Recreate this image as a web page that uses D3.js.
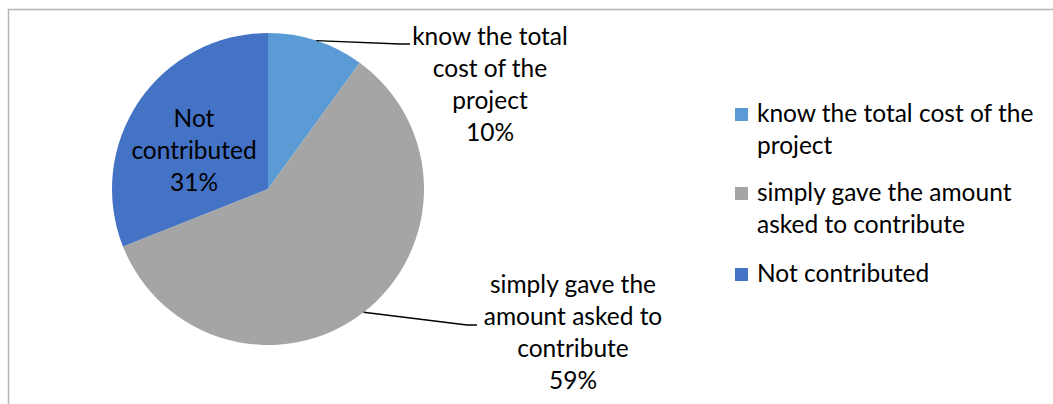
<!DOCTYPE html>
<html>
<head>
<meta charset="utf-8">
<script src="https://cdn.jsdelivr.net/npm/d3@7/dist/d3.min.js"></script>
<style>
  html, body { margin: 0; padding: 0; background: #fff; }
  svg { display: block; }
  text { font-family: Lato, "Open Sans", sans-serif; fill: #000; }
</style>
</head>
<body>
<svg id="chart" width="1053" height="404"></svg>
<script>
// Survey shares (percent)
const categories = ["know the total cost of the project", "simply gave the amount asked to contribute", "Not contributed"];
const values = [10, 59, 31];
const colors = ["#5B9BD5", "#A5A5A5", "#4472C4"];

// Wrapped text for the data labels and legend entries
const dataLabelLines = [
  ["know the total", "cost of the", "project"],
  ["simply gave the", "amount asked to", "contribute"],
  ["Not", "contributed"]
];
const legendLines = [
  ["know the total cost of the", "project"],
  ["simply gave the amount", "asked to contribute"],
  ["Not contributed"]
];

const W = 1053, H = 404;
const svg = d3.select("#chart");
const fontSize = 24.5, lineH = 32;

// Chart area frame (continues past the right and bottom edges)
svg.append("rect")
  .attr("x", 8.5).attr("y", 9.5)
  .attr("width", 1200).attr("height", 600)
  .attr("fill", "none")
  .attr("stroke", "#B5B5B5")
  .attr("stroke-width", 1.5);

const cx = 268, cy = 189, R = 156;
const g = svg.append("g").attr("transform", `translate(${cx},${cy})`);

const pie = d3.pie().value(d => d).sort(null);
const arcs = pie(values);
const arc = d3.arc().innerRadius(0).outerRadius(R);

g.selectAll("path.slice")
  .data(arcs)
  .join("path")
  .attr("class", "slice")
  .attr("d", arc)
  .attr("fill", (d, i) => colors[i]);

// Label anchors (relative to the pie centre); the third sits inside its slice
const labelAnchors = [
  { x: 222, firstBaseline: -144, leader: true },
  { x: 305, firstBaseline: 104, leader: true },
  { x: -74, firstBaseline: -62, leader: false }
];
const leaderEnds = [
  { x: 142, y: -145 },
  { x: 209, y: 136 }
];

arcs.forEach((a, i) => {
  const la = labelAnchors[i];
  const lines = dataLabelLines[i].concat([values[i] + "%"]);
  const t = g.append("text")
    .attr("text-anchor", "middle")
    .style("font-size", fontSize + "px");
  lines.forEach((ln, k) => {
    t.append("tspan")
      .attr("x", la.x)
      .attr("y", la.firstBaseline + k * lineH)
      .text(ln);
  });
  if (la.leader) {
    const mid = (a.startAngle + a.endAngle) / 2;
    const sx = Math.sin(mid) * R, sy = -Math.cos(mid) * R;
    const e = leaderEnds[i];
    g.append("path")
      .attr("d", d3.line()([[sx, sy], [e.x - 10, e.y], [e.x, e.y]]))
      .attr("fill", "none")
      .attr("stroke", "#000")
      .attr("stroke-width", 1.3);
  }
});

// Legend
const legend = svg.append("g").attr("transform", "translate(735,0)");
const legendFirstBaselines = [122, 201, 282];
categories.forEach((c, i) => {
  const y0 = legendFirstBaselines[i];
  legend.append("rect")
    .attr("x", 0).attr("y", y0 - 14)
    .attr("width", 13).attr("height", 13)
    .attr("fill", colors[i]);
  const t = legend.append("text").style("font-size", fontSize + "px");
  legendLines[i].forEach((ln, k) => {
    t.append("tspan").attr("x", 22).attr("y", y0 + k * lineH).text(ln);
  });
});
</script>
</body>
</html>
